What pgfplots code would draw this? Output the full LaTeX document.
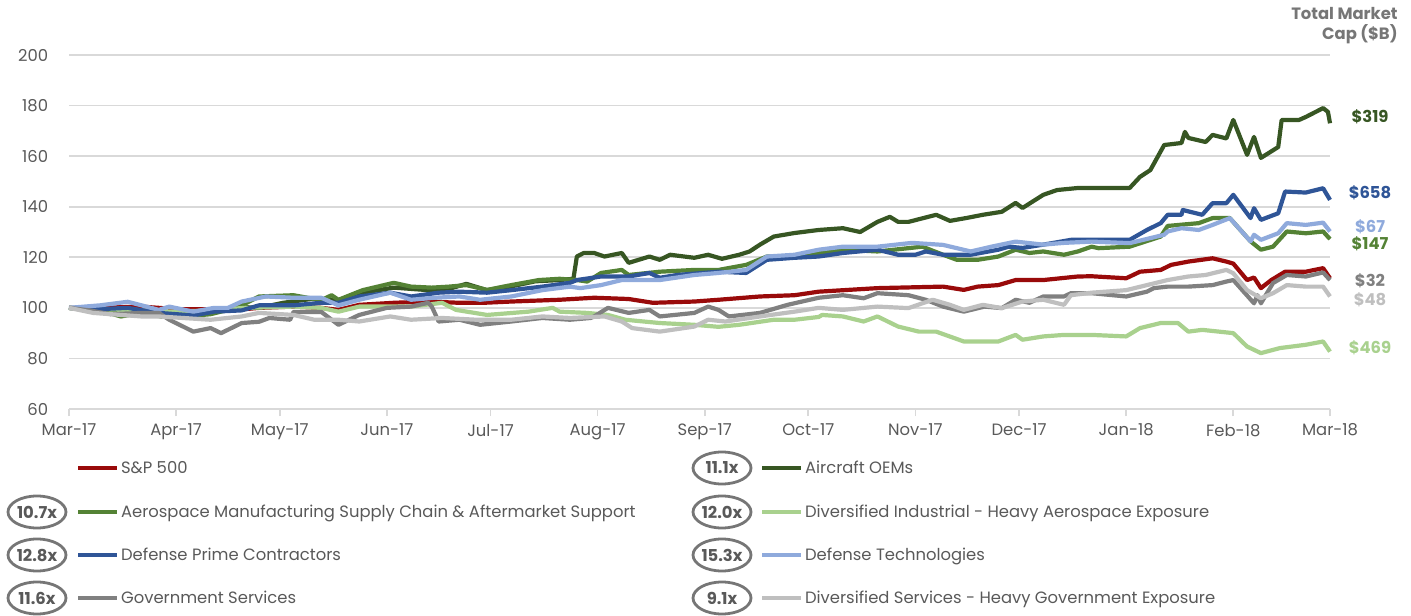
\documentclass[border=0pt]{standalone}
\usepackage{fontspec}
\setmainfont{Poppins}
\usepackage{pgfplots}
\pgfplotsset{compat=1.18}

\definecolor{spred}{RGB}{153,10,10}
\definecolor{oemgreen}{RGB}{55,86,35}
\definecolor{aerogreen}{RGB}{84,130,53}
\definecolor{indgreen}{RGB}{169,209,142}
\definecolor{primeblue}{RGB}{47,85,151}
\definecolor{techblue}{RGB}{143,170,220}
\definecolor{govgray}{RGB}{128,128,128}
\definecolor{svcgray}{RGB}{191,191,191}
\definecolor{gridgray}{RGB}{217,217,217}
\definecolor{labgray}{RGB}{89,89,89}
\definecolor{ovalgray}{RGB}{118,118,118}

\begin{document}
\fontsize{8.2}{9.8}\selectfont
\begin{tikzpicture}
% page frame in pixel units of the reference (origin at Mar-17 / 60)
\begin{scope}[x=0.5pt,y=-0.5pt,shift={(-69,-409)}]
  \path[use as bounding box] (0,0) rectangle (1411,611);
\end{scope}

\begin{axis}[
    scale only axis,
    width=630.5pt, height=177pt,
    xmin=0, xmax=365, ymin=60, ymax=200,
    xtick={0,31,61,92,122,153,184,214,245,275,306,337,365},
    xticklabels={Mar-17,Apr-17,May-17,Jun-17,Jul-17,Aug-17,Sep-17,Oct-17,Nov-17,Dec-17,Jan-18,Feb-18,Mar-18},
    ytick={60,80,...,200},
    axis x line*=bottom, axis y line*=left,
    axis line style={-, draw=gridgray, line width=0.9pt},
    y axis line style={draw=none},
    ymajorgrids,
    major grid style={draw=gridgray, line width=0.9pt},
    tick align=outside,
    major tick length=3.5pt,
    xtick style={draw=gridgray, line width=0.9pt},
    ytick style={draw=none},
    tick label style={text=labgray},
    /pgf/number format/assume math mode=true,
    yticklabel style={xshift=-4pt},
    xticklabel style={yshift=-1pt},
    clip=false,
    every axis plot/.append style={line width=2.1pt, line join=round, no marks},
]
% S&P 500
\addplot[spred] coordinates {
 (0,100) (9,100) (21,100.5) (31,99.5) (41,99.5) (47,99) (55,100) (65,100.5)
 (73,100) (78,99.2) (84,101.2) (94,102) (104,102.5) (113,102) (120,102)
 (128,102.5) (142,103.2) (152,104) (162,103.5) (169,102) (181,102.5)
 (188,103.2) (200,104.5) (210,105) (217,106.4) (234,107.8) (253,108.4)
 (259,107.1) (263,108.4) (269,109) (274,111) (282,111) (292,112.4)
 (296,112.5) (306,111.7) (310,114.3) (316,115) (319,117) (324,118.3)
 (331,119.6) (335,118.3) (337,117.5) (341,111) (343,112) (345,107.8)
 (348,111) (352,114.3) (358,114.3) (363,115.7) (365,111.7)
};
% Aircraft OEMs
\addplot[oemgreen] coordinates {
 (0,100) (9,99) (21,97.5) (31,97) (41,98) (48,100.5) (55,100) (62,102)
 (70,103.5) (78,103) (85,106) (94,108) (99,107.5) (104,107) (110,107.5)
 (115,109.5) (121,107) (128,108.5) (135,110.5) (142,111) (146,111.5)
 (147,120.3) (149,121.7) (152,121.7) (155,120.3) (160,121.7) (162,117.8)
 (168,120.3) (171,119) (174,121) (181,119.8) (185,121) (189,119.4)
 (194,121) (197,122.3) (200,125) (204,128.2) (210,129.6) (217,130.8)
 (224,131.5) (229,130) (234,134) (237.6,136) (240,134) (243,134)
 (251,136.8) (255,134.4) (260,135.6) (264.5,136.8) (270,138) (274,141.5)
 (276,139.5) (282,144.7) (286,146.6) (292,147.4) (301,147.4) (307,147.4)
 (310,151.8) (313,154.5) (317,164.4) (322,165.2) (323,169.6) (324,167.2)
 (329,165.6) (331,168.4) (335,167) (337,174.3) (341,160.5) (343,167.6)
 (345,159.3) (350,163.6) (351,174.3) (356,174.3) (358,175.5) (363,179)
 (364.4,177.5) (365,173)
};
% Aerospace Manufacturing Supply Chain & Aftermarket Support
\addplot[aerogreen] coordinates {
 (0,100) (9,99) (15,96.6) (21,98) (27,96.5) (33,96.5) (41,97.5) (46,99.2)
 (50,101) (55,104.5) (65,105) (73,103) (76,105) (78,103.2) (85,107)
 (94,109.9) (99,108.4) (105,108) (110,108.4) (115,109) (121,107.1)
 (128,109) (136,111) (142,111.5) (147,111) (150,110.4) (154,113.8)
 (160,115) (162,113) (171,114.3) (181,115) (188,115) (196,117) (202,120.3)
 (210,120.3) (217,121.7) (224,123) (234,122.3) (247,124.2) (253,121)
 (257,119) (263,119) (269,120.3) (274,123) (278,121.7) (282,122.3)
 (288,121) (292,122.3) (296,124.2) (298,123.6) (307,124.2) (316,128.2)
 (318,132.4) (327,133.5) (331,135.5) (336,135.5) (342,126.3) (345,123)
 (348.5,124.2) (352.5,130.2) (358,129.5) (363,130.2) (365,127.2)
};
% Diversified Industrial - Heavy Aerospace Exposure
\addplot[indgreen] coordinates {
 (0,100) (9,99.5) (21,99) (31,98.5) (41,99) (51,100) (65,100.5) (73,100)
 (78,98.5) (84,100.5) (99,100.5) (108,102) (112,99.2) (121,97.2)
 (133,98.5) (140,100) (142,98.5) (150,98) (156,97.2) (161,95.3) (171,94)
 (181,93.3) (188,92.5) (194,93.3) (204,95.3) (210,95.3) (217,96.4)
 (218,97.2) (224,96.6) (230,94.6) (234,96.6) (240,92.6) (246,90.6)
 (251,90.6) (259,86.7) (269,86.7) (274,89.3) (276,87.4) (282,88.7)
 (288,89.3) (296,89.3) (306,88.7) (310,92) (316,94) (321,94) (324,90.6)
 (328,91.3) (337,90) (341,84.7) (345,82.1) (350.5,84.1) (358,85.4)
 (363,86.7) (365,82.7)
};
% Defense Prime Contractors
\addplot[primeblue] coordinates {
 (0,100) (9,99.5) (17,100) (26,98) (36,97) (42,98.5) (50,99) (55,101)
 (65,101) (73,102) (78,102) (84,104.5) (93,106) (99,104.5) (107,106)
 (113,106.4) (121,106) (128,107) (137,108.4) (145,109.9) (147,111)
 (154,112.4) (162,112.4) (168,113.8) (171,111.9) (176,113) (188,114.3)
 (196,113.8) (202,119) (210,119.8) (217,120.3) (224,121.7) (234,123)
 (240,121) (245,121) (248,122.3) (253,121) (261,121) (269,123) (272,124.2)
 (276,123.7) (282,125) (290,126.9) (296,126.9) (307,126.9) (312,130.8)
 (316,133.5) (318,136.8) (322,136.8) (322.4,138.7) (328,136.8) (331,141.4)
 (335,141.4) (337,144.7) (342,135.5) (343,139.4) (345,134.8) (350,137.4)
 (352,146) (358,145.6) (363,147.3) (365,142.7)
};
% Defense Technologies
\addplot[techblue] coordinates {
 (0,100) (9,101) (17,102.4) (21,101) (26,99.2) (29,100.5) (36,98.5)
 (42,100) (46,100) (50,102.5) (57,104.5) (65,104) (73,104) (78,101)
 (84,103.2) (93,106) (99,103.2) (106,104) (113,104.5) (119,103.2)
 (128,104.5) (137,107) (145,108.4) (148,107.8) (154,109) (160,111)
 (171,111) (181,113) (188,113.8) (196,115) (202,120.3) (210,121) (217,123)
 (224,124.2) (234,124.2) (244,125.7) (253,124.9) (261,122.3) (267,124.2)
 (274,126.2) (282,125) (288,125.7) (296,126.2) (307,125.6) (317,128.9)
 (318,130.2) (322,131.5) (327,130.8) (331,132.8) (336,135.5) (342,126.3)
 (343,128.9) (345,126.9) (350,129.5) (352.5,133.5) (358,132.8)
 (363,133.7) (365,130.2)
};
% Government Services
\addplot[govgray] coordinates {
 (0,100) (6,99) (12,97.5) (21,98) (26,98) (29,95.3) (36,90.6) (41,92)
 (44,90) (50,94) (55,94.5) (58,96) (64,95.3) (65,98.4) (73,98.4) (78,93.3)
 (84,97.2) (92,100) (99,100.5) (104,102) (105,100.5) (107,94.6) (113,95.3)
 (119,93.3) (128,94.6) (137,96) (145,95.3) (151,96) (152,96.6) (156,100)
 (162,98) (168,99.2) (171,96.6) (181,98) (185,100.5) (188,99.2) (191,96.6)
 (200,98) (208,101.2) (217,104) (224,105) (230,103.8) (234,105.8)
 (243,105) (248,103.2) (253,100.5) (259,98.5) (265,100.5) (270,99.9)
 (274,103.2) (278,102) (282,104.5) (288,104.5) (290,105.8) (296,105.8)
 (306,104.5) (312,106.4) (314,107.8) (318,108.4) (324,108.4) (331,109)
 (335,110.4) (337,111) (343,101.8) (344,105) (345,101.8) (348.5,109.8)
 (352.5,113) (358,112.4) (363,114) (365,111)
};
% Diversified Services - Heavy Government Exposure
\addplot[svcgray] coordinates {
 (0,100) (7,98) (21,96.6) (26,96.6) (41,95.3) (50,96.6) (55,98) (65,97.2)
 (71,95.3) (78,95.3) (84,94.6) (93,96.6) (99,95.3) (108,96) (118,95.3)
 (128,95.3) (137,96.6) (145,96) (155,96.6) (160,94.6) (163,92) (171,90.6)
 (181,92.6) (185,95.3) (190,94.6) (200,96.6) (210,98.5) (217,100)
 (224,99.2) (234,100.5) (243,99.9) (247,101.8) (250,103.2) (255,101.2)
 (259,99.2) (264.5,101.2) (270,99.9) (276,102.5) (282,103.2) (288,101.2)
 (290,105) (296,106) (306,107) (312,109) (318,111) (324,112.4) (329,113)
 (335,115) (337,113.7) (341,107) (345,103.8) (348.5,105.8) (352.5,109)
 (358,108.4) (363,108.4) (365,104.5)
};
\end{axis}

\begin{scope}[x=0.5pt,y=-0.5pt,shift={(-69,-409)}]
  % column header on the right
  \node[anchor=north east, align=right, font=\bfseries, text=ovalgray, inner sep=0pt]
    at (1398,7) {Total Market\\Cap (\$B)};
  % market caps
  \begin{scope}[font=\bfseries, inner sep=0pt]
  \node[text=oemgreen]   at (1370,117) {\$319};
  \node[text=primeblue]  at (1370,193) {\$658};
  \node[text=techblue]   at (1370,227) {\$67};
  \node[text=aerogreen]  at (1370,244) {\$147};
  \node[text=govgray]    at (1370,281) {\$32};
  \node[text=svcgray]    at (1370,300) {\$48};
  \node[text=indgreen]   at (1370,348) {\$469};
  \end{scope}
  % legend, left column then right column
  \begin{scope}[line width=2.1pt, every node/.style={anchor=west, text=labgray, inner sep=0pt, text height=1.6ex, text depth=0.3ex}]
  \draw[spred]     (78,468) -- (117,468) node[right=1pt] {S\&P 500};
  \draw[aerogreen] (78,512) -- (117,512) node[right=1pt] {Aerospace Manufacturing Supply Chain \& Aftermarket Support};
  \draw[primeblue] (78,555) -- (117,555) node[right=1pt] {Defense Prime Contractors};
  \draw[govgray]   (78,598) -- (117,598) node[right=1pt] {Government Services};
  \draw[oemgreen]  (762,468) -- (801,468) node[right=1pt] {Aircraft OEMs};
  \draw[indgreen]  (762,512) -- (801,512) node[right=1pt] {Diversified Industrial - Heavy Aerospace Exposure};
  \draw[techblue]  (762,555) -- (801,555) node[right=1pt] {Defense Technologies};
  \draw[svcgray]   (762,598) -- (801,598) node[right=1pt] {Diversified Services - Heavy Government Exposure};
  \end{scope}
  % multiples
  \begin{scope}[ovalgray, line width=1.4pt]
  \draw (37,512) ellipse [x radius=29, y radius=16];
  \draw (37,555) ellipse [x radius=29, y radius=16];
  \draw (37,598) ellipse [x radius=29, y radius=16];
  \draw (722,468) ellipse [x radius=29, y radius=16];
  \draw (722,512) ellipse [x radius=29, y radius=16];
  \draw (722,555) ellipse [x radius=29, y radius=16];
  \draw (722,598) ellipse [x radius=29, y radius=16];
  \end{scope}
  \begin{scope}[every node/.style={text=labgray, font=\bfseries, inner sep=0pt}]
  \node at (37,512) {10.7x};
  \node at (37,555) {12.8x};
  \node at (37,598) {11.6x};
  \node at (722,468) {11.1x};
  \node at (722,512) {12.0x};
  \node at (722,555) {15.3x};
  \node at (722,598) {9.1x};
  \end{scope}
\end{scope}
\end{tikzpicture}
\end{document}
